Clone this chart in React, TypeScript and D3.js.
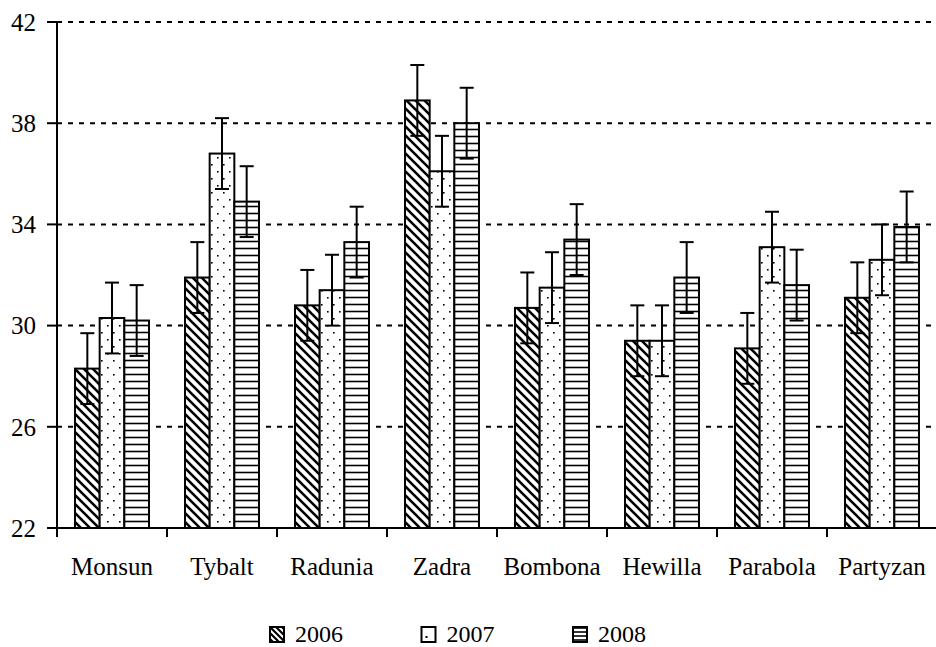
import React from "react";
import * as d3 from "d3";

const categories = ["Monsun", "Tybalt", "Radunia", "Zadra", "Bombona", "Hewilla", "Parabola", "Partyzan"];
const years = ["2006", "2007", "2008"];
const values2006 = [28.3, 31.9, 30.8, 38.9, 30.7, 29.4, 29.1, 31.1];
const values2007 = [30.3, 36.8, 31.4, 36.1, 31.5, 29.4, 33.1, 32.6];
const values2008 = [30.2, 34.9, 33.3, 38.0, 33.4, 31.9, 31.6, 33.9];
const errors2006 = [1.4, 1.4, 1.4, 1.4, 1.4, 1.4, 1.4, 1.4];
const errors2007 = [1.4, 1.4, 1.4, 1.4, 1.4, 1.4, 1.4, 1.4];
const errors2008 = [1.4, 1.4, 1.4, 1.4, 1.4, 1.4, 1.4, 1.4];
const yTicks = [22, 26, 30, 34, 38, 42];

const series = [values2006, values2007, values2008];
const errs = [errors2006, errors2007, errors2008];
const fills = ["url(#diag)", "url(#dots)", "url(#horiz)"];
const legendFills = ["url(#diagS)", "url(#dotsS)", "url(#horizS)"];

const W = 936;
const H = 647;
const left = 57;
const right = 937;
const top = 22;
const bottom = 528;
const textStyle = { fontFamily: "Liberation Serif, Times New Roman, Times, serif", fontSize: 25 };

export default function App() {
  const y = d3.scaleLinear().domain([22, 42]).range([bottom, top]);
  const x = d3.scaleBand<string>().domain(categories).range([left, right]);
  const xs = d3.scaleBand<string>().domain(years).range([18, x.bandwidth() - 18]);
  const bw = xs.bandwidth();

  return (
    <svg width={W} height={H} style={{ position: "absolute", left: 0, top: 0 }}>
      <defs>
        <pattern id="diag" patternUnits="userSpaceOnUse" width="9" height="9">
          <rect width="9" height="9" fill="#fff" />
          <path d="M-1,-1 L10,10 M-3,6 L3,12 M6,-3 L12,3" stroke="#000" strokeWidth="2.6" />
        </pattern>
        <pattern id="dots" patternUnits="userSpaceOnUse" width="12" height="14">
          <rect width="12" height="14" fill="#fff" />
          <rect x="2" y="3" width="1.6" height="1.6" fill="#000" />
          <rect x="8" y="10" width="1.6" height="1.6" fill="#000" />
        </pattern>
        <pattern id="horiz" patternUnits="userSpaceOnUse" width="8" height="7">
          <rect width="8" height="7" fill="#fff" />
          <line x1="0" x2="8" y1="3.5" y2="3.5" stroke="#000" strokeWidth="1.6" />
        </pattern>
        <pattern id="diagS" patternUnits="userSpaceOnUse" width="6" height="6">
          <rect width="6" height="6" fill="#fff" />
          <path d="M-1,-1 L7,7 M-2,4 L2,8 M4,-2 L8,2" stroke="#000" strokeWidth="2.2" />
        </pattern>
        <pattern id="dotsS" patternUnits="userSpaceOnUse" width="16" height="16">
          <rect width="16" height="16" fill="#fff" />
          <rect x="5" y="10" width="2" height="2" fill="#000" />
        </pattern>
        <pattern id="horizS" patternUnits="userSpaceOnUse" width="8" height="4">
          <rect width="8" height="4" fill="#fff" />
          <line x1="0" x2="8" y1="2" y2="2" stroke="#000" strokeWidth="1.6" />
        </pattern>
      </defs>
      <rect width={W} height={H} fill="#fff" />

      {/* grid */}
      {yTicks.filter((t) => t > 22).map((t) => (
        <line key={"g" + t} x1={left} x2={W} y1={y(t)} y2={y(t)} stroke="#000" strokeWidth={2} strokeDasharray="5,6" />
      ))}

      {/* bars */}
      {categories.map((c, i) => (
        <g key={c} transform={`translate(${x(c)},0)`}>
          {years.map((yr, k) => {
            const v = series[k][i];
            const e = errs[k][i];
            const bx = xs(yr)!;
            const cx = bx + bw / 2;
            return (
              <g key={yr}>
                <rect x={bx} y={y(v)} width={bw} height={bottom - y(v)} fill={fills[k]} stroke="#000" strokeWidth={2} />
                <line x1={cx} x2={cx} y1={y(v + e)} y2={y(v - e)} stroke="#000" strokeWidth={2} />
                <line x1={cx - 7} x2={cx + 7} y1={y(v + e)} y2={y(v + e)} stroke="#000" strokeWidth={2} />
                <line x1={cx - 7} x2={cx + 7} y1={y(v - e)} y2={y(v - e)} stroke="#000" strokeWidth={2} />
              </g>
            );
          })}
        </g>
      ))}

      {/* axes */}
      <line x1={left} x2={left} y1={top} y2={bottom + 9} stroke="#000" strokeWidth={2} />
      <line x1={left} x2={W} y1={bottom} y2={bottom} stroke="#000" strokeWidth={2} />
      {yTicks.map((t) => (
        <g key={"t" + t}>
          <line x1={left - 10} x2={left} y1={y(t)} y2={y(t)} stroke="#000" strokeWidth={2} />
          <text x={36} y={y(t)} dy="0.35em" textAnchor="end" style={textStyle}>
            {t}
          </text>
        </g>
      ))}
      {categories.slice(1).map((c) => (
        <line key={"xt" + c} x1={x(c)} x2={x(c)} y1={bottom} y2={bottom + 9} stroke="#000" strokeWidth={2} />
      ))}
      {categories.map((c) => (
        <text key={"l" + c} x={x(c)! + x.bandwidth() / 2} y={575} textAnchor="middle" style={textStyle}>
          {c}
        </text>
      ))}

      {/* legend */}
      {years.map((yr, k) => (
        <g key={"lg" + yr} transform={`translate(${269 + k * 151.5},626)`}>
          <rect x={1} y={1} width={14} height={15} fill={legendFills[k]} stroke="#000" strokeWidth={2} />
          <text x={26} y={16} style={{ ...textStyle, fontSize: 24 }}>
            {yr}
          </text>
        </g>
      ))}
    </svg>
  );
}
